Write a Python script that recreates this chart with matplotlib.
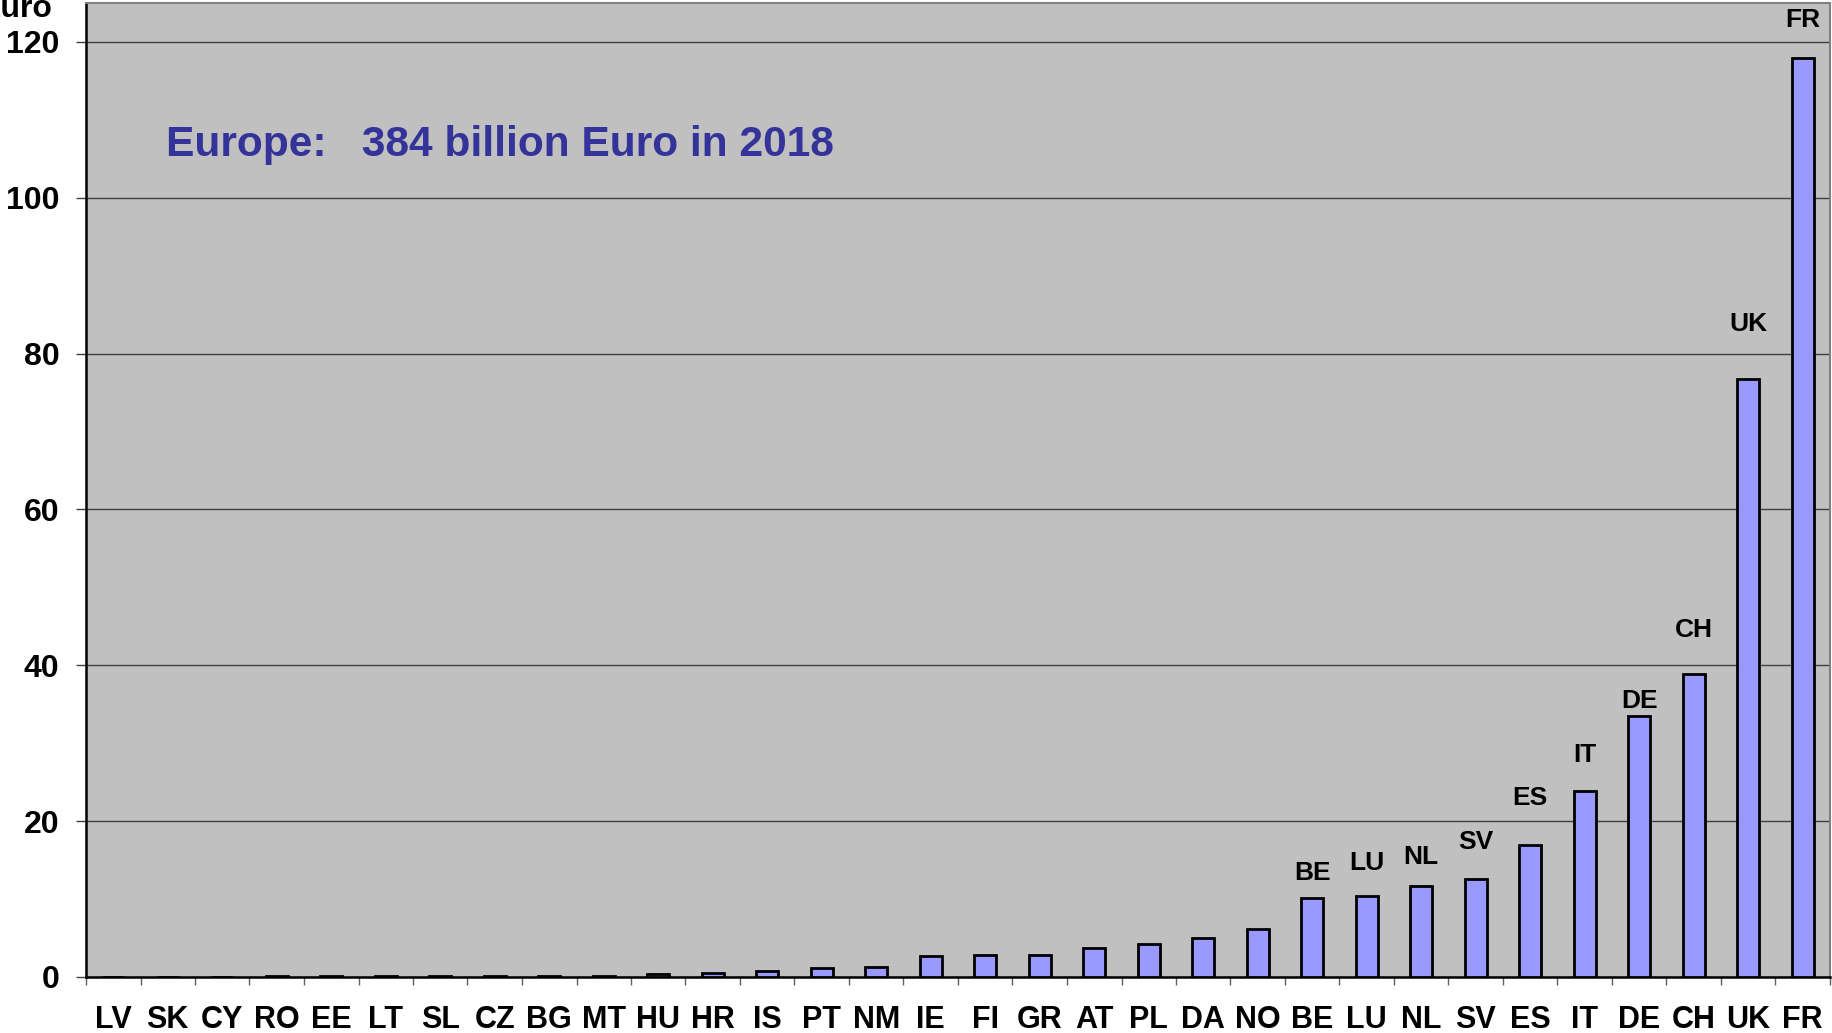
import matplotlib
matplotlib.use("Agg")
import matplotlib.pyplot as plt
from matplotlib import font_manager
import numpy as np

# Marktvolumen je Land, Milliarden Euro
paises = ['LV', 'SK', 'CY', 'RO', 'EE', 'LT', 'SL', 'CZ', 'BG', 'MT', 'HU',
          'HR', 'IS', 'PT', 'NM', 'IE', 'FI', 'GR', 'AT', 'PL', 'DA', 'NO',
          'BE', 'LU', 'NL', 'SV', 'ES', 'IT', 'DE', 'CH', 'UK', 'FR']
valores = [0.0, 0.05, 0.05, 0.1, 0.1, 0.1, 0.1, 0.1, 0.1, 0.15, 0.4,
           0.55, 0.75, 1.2, 1.28, 2.66, 2.79, 2.88, 3.77, 4.29, 4.97, 6.2,
           10.2, 10.35, 11.73, 12.6, 17.0, 23.85, 33.55, 38.95, 76.8, 117.9]
# paises que llevan etiqueta encima de la barra
etiquetados = ['BE', 'LU', 'NL', 'SV', 'ES', 'IT', 'DE', 'CH', 'UK', 'FR']
# separacion de cada etiqueta sobre su barra (pixeles)
desplaz = [25, 33, 29, 37, 47, 36, 15, 44, 55, 38]

nombres = {f.name for f in font_manager.fontManager.ttflist}
fuente = 'Liberation Sans' if 'Liberation Sans' in nombres else 'DejaVu Sans'
fuente_estrecha = 'Liberation Sans Narrow' if 'Liberation Sans Narrow' in nombres else fuente
plt.rcParams['font.family'] = fuente

W, H = 1833, 1033
fig = plt.figure(figsize=(W / 100, H / 100), dpi=100)
ax = fig.add_axes([86 / W, 1 - 977 / H, (1830 - 86) / W, (977 - 3) / H])
ax.set_facecolor('#c0c0c0')

x = np.arange(len(paises))
ax.bar(x, valores, width=0.4, color='#9999ff', edgecolor='black', linewidth=2.0, zorder=3)

ax.set_xlim(-0.5, len(paises) - 0.5)
ax.set_ylim(0, 125)
ax.set_yticks(np.arange(0, 121, 20))
ax.yaxis.grid(True, color='#404040', linewidth=1.0, zorder=1)
ax.set_axisbelow(True)

ax.set_xticks(x)
ax.set_xticklabels(paises, fontfamily=fuente_estrecha, fontweight='bold', fontsize=22)
ax.set_xticks(np.arange(-0.5, len(paises), 1), minor=True)
ax.tick_params(axis='x', which='major', length=0, pad=20)
ax.tick_params(axis='x', which='minor', length=6, color='#606060', width=1)
ax.tick_params(axis='y', length=7, color='#404040', width=1, pad=12, labelsize=23)
for t in ax.get_yticklabels():
    t.set_fontweight('bold')

for lado in ['left', 'bottom']:
    ax.spines[lado].set_color('black')
    ax.spines[lado].set_linewidth(1.8)
for lado in ['top', 'right']:
    ax.spines[lado].set_color('#808080')
    ax.spines[lado].set_linewidth(1.5)

for nombre, d in zip(etiquetados, desplaz):
    i = paises.index(nombre)
    ax.annotate(nombre, (x[i], valores[i]), xytext=(0, d * 0.72), textcoords='offset points',
                ha='center', va='center', fontsize=19, fontweight='bold', zorder=4)

ax.text((166 - 86) / (1830 - 86), (977 - 145) / (977 - 3), 'Europe:   384 billion Euro in 2018',
        transform=ax.transAxes, ha='left', va='center', fontsize=30.6, fontweight='bold',
        color='#333399')

fig.text(53 / W, 1 - 17 / H, 'Euro', ha='right', va='baseline', fontsize=23, fontweight='bold')

fig.savefig('out.png', dpi=100)
